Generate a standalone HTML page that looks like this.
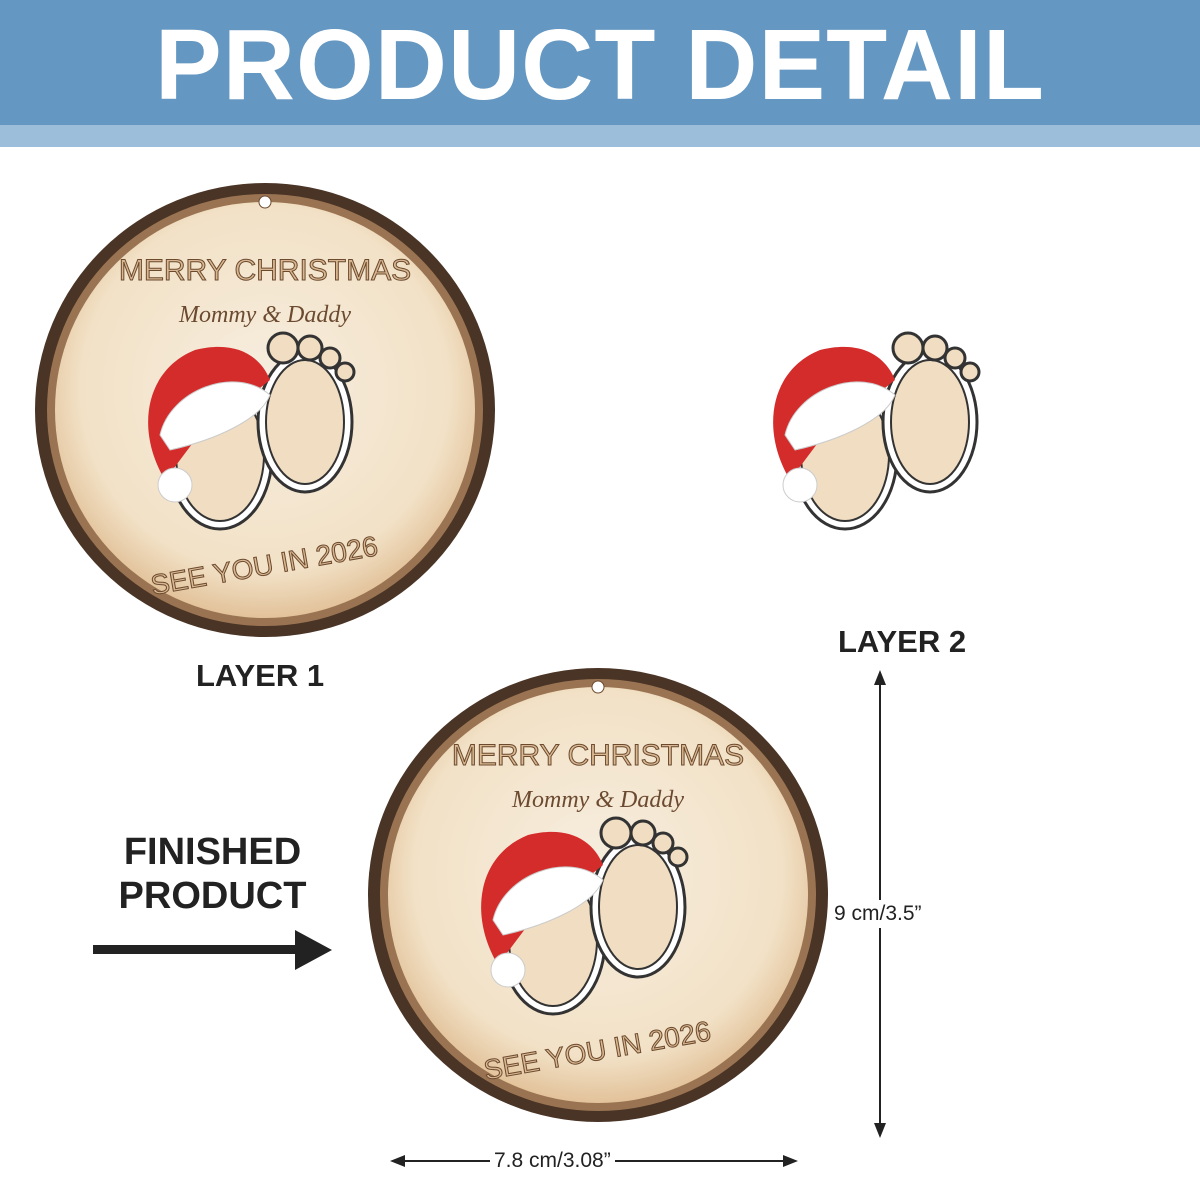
<!DOCTYPE html>
<html><head><meta charset="utf-8"><style>
body{margin:0;width:1200px;height:1200px;background:#fff;position:relative;overflow:hidden;font-family:"Liberation Sans",sans-serif}
.hd{position:absolute;left:0;top:0;width:1200px;height:125px;background:#6497c1}
.hd2{position:absolute;left:0;top:125px;width:1200px;height:22px;background:#9cbedb}
.t{position:absolute;left:0;top:8px;width:1200px;text-align:center;color:#fff;font-weight:bold;font-size:100px;letter-spacing:1px}
.l{position:absolute;font-weight:bold;color:#222;font-size:32px}
</style></head><body>
<div class="hd"></div><div class="hd2"></div>
<div class="t">PRODUCT DETAIL</div>
<svg width="1200" height="1200" style="position:absolute;left:0;top:0">
<defs>
<radialGradient id="w" cx="50%" cy="45%" r="55%"><stop offset="0" stop-color="#f7eee0"/><stop offset="0.8" stop-color="#f2e1c6"/><stop offset="1" stop-color="#e2c29a"/></radialGradient>
<g id="feet">
<ellipse cx="-45" cy="45" rx="52" ry="74" fill="#fff" stroke="#333" stroke-width="3"/>
<ellipse cx="-45" cy="45" rx="44" ry="66" fill="#f0ddc2" stroke="#333" stroke-width="2"/>
<ellipse cx="40" cy="12" rx="47" ry="70" fill="#fff" stroke="#333" stroke-width="3"/>
<ellipse cx="40" cy="12" rx="39" ry="62" fill="#f0ddc2" stroke="#333" stroke-width="2"/>
<circle cx="18" cy="-62" r="15" fill="#f0ddc2" stroke="#333" stroke-width="3"/>
<circle cx="45" cy="-62" r="12" fill="#f0ddc2" stroke="#333" stroke-width="3"/>
<circle cx="65" cy="-52" r="10" fill="#f0ddc2" stroke="#333" stroke-width="3"/>
<circle cx="80" cy="-38" r="9" fill="#f0ddc2" stroke="#333" stroke-width="3"/>
<path d="M-100,70 C-130,20 -120,-40 -70,-60 C-30,-70 -5,-55 5,-30 L-70,30 Z" fill="#d42b2b"/>
<path d="M-105,25 C-95,-20 -30,-45 5,-15 C-5,10 -50,30 -95,40Z" fill="#fff" stroke="#ccc"/>
<circle cx="-90" cy="75" r="17" fill="#fff" stroke="#ccc"/>
</g>
<g id="disc">
<ellipse cx="0" cy="0" rx="230" ry="227" fill="#4a3426"/>
<ellipse cx="0" cy="0" rx="218" ry="216" fill="#9a7452"/>
<ellipse cx="0" cy="0" rx="210" ry="208" fill="url(#w)"/>
<circle cx="0" cy="-208" r="6" fill="#fff" stroke="#6b4a30"/>
<text x="0" y="-130" text-anchor="middle" font-size="30" fill="#d9b891" stroke="#6b4a30" stroke-width="1" font-family="Liberation Sans">MERRY CHRISTMAS</text>
<text x="0" y="-88" text-anchor="middle" font-size="24" font-style="italic" fill="#6b4a30" font-family="Liberation Serif">Mommy &amp; Daddy</text>
<text x="0" y="165" text-anchor="middle" font-size="28" fill="#d9b891" stroke="#6b4a30" stroke-width="1" font-family="Liberation Sans" transform="rotate(-10 0 160)">SEE YOU IN 2026</text>
<use href="#feet" x="0" y="0"/>
</g>
</defs>
<use href="#disc" x="265" y="410"/>
<use href="#feet" x="890" y="410"/>
<use href="#disc" x="598" y="895"/>
<line x1="880" y1="680" x2="880" y2="1128" stroke="#222" stroke-width="2"/>
<path d="M874,685 L880,670 L886,685Z M874,1123 L880,1138 L886,1123Z" fill="#222"/>
<line x1="400" y1="1161" x2="788" y2="1161" stroke="#222" stroke-width="2"/>
<path d="M405,1155 L390,1161 L405,1167Z M783,1155 L798,1161 L783,1167Z" fill="#222"/>
<rect x="93" y="945" width="205" height="9" fill="#222"/>
<path d="M295,930 L332,950 L295,970Z" fill="#222"/>
</svg>
<div class="l" style="left:196px;top:658px;font-size:31px">LAYER 1</div>
<div class="l" style="left:838px;top:624px;font-size:31px">LAYER 2</div>
<div class="l" style="left:100px;top:830px;width:225px;text-align:center;font-size:38px;line-height:44px">FINISHED<br>PRODUCT</div>
<div style="position:absolute;left:832px;top:900px;background:#fff;font-size:21px;color:#222;padding:2px">9 cm/3.5”</div>
<div style="position:absolute;left:490px;top:1149px;background:#fff;font-size:21px;color:#222;padding:0 4px">7.8 cm/3.08”</div>
</body></html>
